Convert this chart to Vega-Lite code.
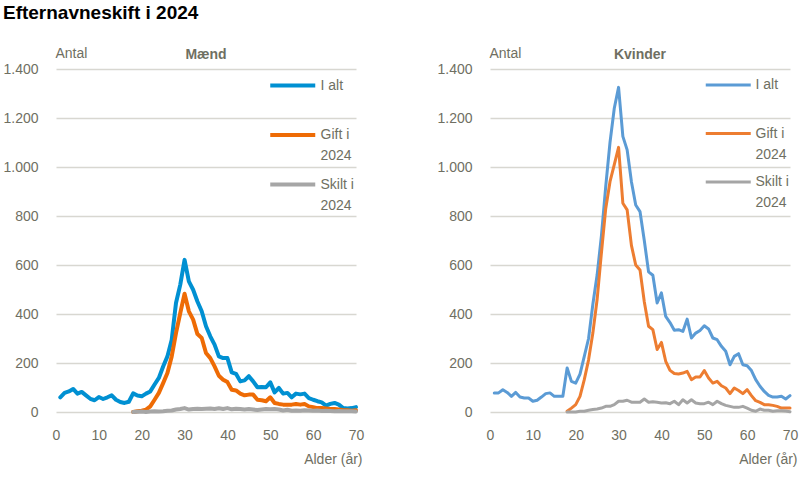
{
"$schema": "https://vega.github.io/schema/vega-lite/v6.json",
"padding": {"left": 2, "top": 4, "right": 3, "bottom": 5},
"title": {"text": "Efternavneskift i 2024", "anchor": "start", "font": "Liberation Sans", "fontSize": 19, "fontWeight": "bold", "color": "#000000", "offset": 23},
"data": {"values": [
{"koen":"Mænd","serie":"I alt","alder":1,"antal":60},{"koen":"Mænd","serie":"I alt","alder":2,"antal":78},{"koen":"Mænd","serie":"I alt","alder":3,"antal":84},{"koen":"Mænd","serie":"I alt","alder":4,"antal":94},{"koen":"Mænd","serie":"I alt","alder":5,"antal":75},{"koen":"Mænd","serie":"I alt","alder":6,"antal":82},{"koen":"Mænd","serie":"I alt","alder":7,"antal":68},{"koen":"Mænd","serie":"I alt","alder":8,"antal":54},{"koen":"Mænd","serie":"I alt","alder":9,"antal":48},{"koen":"Mænd","serie":"I alt","alder":10,"antal":61},
{"koen":"Mænd","serie":"I alt","alder":11,"antal":53},{"koen":"Mænd","serie":"I alt","alder":12,"antal":60},{"koen":"Mænd","serie":"I alt","alder":13,"antal":68},{"koen":"Mænd","serie":"I alt","alder":14,"antal":50},{"koen":"Mænd","serie":"I alt","alder":15,"antal":41},{"koen":"Mænd","serie":"I alt","alder":16,"antal":37},{"koen":"Mænd","serie":"I alt","alder":17,"antal":42},{"koen":"Mænd","serie":"I alt","alder":18,"antal":76},{"koen":"Mænd","serie":"I alt","alder":19,"antal":67},{"koen":"Mænd","serie":"I alt","alder":20,"antal":64},
{"koen":"Mænd","serie":"I alt","alder":21,"antal":75},{"koen":"Mænd","serie":"I alt","alder":22,"antal":84},{"koen":"Mænd","serie":"I alt","alder":23,"antal":112},{"koen":"Mænd","serie":"I alt","alder":24,"antal":139},{"koen":"Mænd","serie":"I alt","alder":25,"antal":186},{"koen":"Mænd","serie":"I alt","alder":26,"antal":227},{"koen":"Mænd","serie":"I alt","alder":27,"antal":295},{"koen":"Mænd","serie":"I alt","alder":28,"antal":445},{"koen":"Mænd","serie":"I alt","alder":29,"antal":520},{"koen":"Mænd","serie":"I alt","alder":30,"antal":621},
{"koen":"Mænd","serie":"I alt","alder":31,"antal":533},{"koen":"Mænd","serie":"I alt","alder":32,"antal":499},{"koen":"Mænd","serie":"I alt","alder":33,"antal":451},{"koen":"Mænd","serie":"I alt","alder":34,"antal":411},{"koen":"Mænd","serie":"I alt","alder":35,"antal":350},{"koen":"Mænd","serie":"I alt","alder":36,"antal":309},{"koen":"Mænd","serie":"I alt","alder":37,"antal":275},{"koen":"Mænd","serie":"I alt","alder":38,"antal":227},{"koen":"Mænd","serie":"I alt","alder":39,"antal":220},{"koen":"Mænd","serie":"I alt","alder":40,"antal":220},
{"koen":"Mænd","serie":"I alt","alder":41,"antal":162},{"koen":"Mænd","serie":"I alt","alder":42,"antal":156},{"koen":"Mænd","serie":"I alt","alder":43,"antal":125},{"koen":"Mænd","serie":"I alt","alder":44,"antal":129},{"koen":"Mænd","serie":"I alt","alder":45,"antal":146},{"koen":"Mænd","serie":"I alt","alder":46,"antal":125},{"koen":"Mænd","serie":"I alt","alder":47,"antal":101},{"koen":"Mænd","serie":"I alt","alder":48,"antal":102},{"koen":"Mænd","serie":"I alt","alder":49,"antal":101},{"koen":"Mænd","serie":"I alt","alder":50,"antal":121},
{"koen":"Mænd","serie":"I alt","alder":51,"antal":80},{"koen":"Mænd","serie":"I alt","alder":52,"antal":98},{"koen":"Mænd","serie":"I alt","alder":53,"antal":75},{"koen":"Mænd","serie":"I alt","alder":54,"antal":78},{"koen":"Mænd","serie":"I alt","alder":55,"antal":60},{"koen":"Mænd","serie":"I alt","alder":56,"antal":75},{"koen":"Mænd","serie":"I alt","alder":57,"antal":72},{"koen":"Mænd","serie":"I alt","alder":58,"antal":75},{"koen":"Mænd","serie":"I alt","alder":59,"antal":57},{"koen":"Mænd","serie":"I alt","alder":60,"antal":50},
{"koen":"Mænd","serie":"I alt","alder":61,"antal":44},{"koen":"Mænd","serie":"I alt","alder":62,"antal":39},{"koen":"Mænd","serie":"I alt","alder":63,"antal":26},{"koen":"Mænd","serie":"I alt","alder":64,"antal":33},{"koen":"Mænd","serie":"I alt","alder":65,"antal":37},{"koen":"Mænd","serie":"I alt","alder":66,"antal":30},{"koen":"Mænd","serie":"I alt","alder":67,"antal":16},{"koen":"Mænd","serie":"I alt","alder":68,"antal":14},{"koen":"Mænd","serie":"I alt","alder":69,"antal":16},{"koen":"Mænd","serie":"I alt","alder":70,"antal":20},
{"koen":"Mænd","serie":"Gift i 2024","alder":18,"antal":0},{"koen":"Mænd","serie":"Gift i 2024","alder":19,"antal":3},{"koen":"Mænd","serie":"Gift i 2024","alder":20,"antal":5},{"koen":"Mænd","serie":"Gift i 2024","alder":21,"antal":10},{"koen":"Mænd","serie":"Gift i 2024","alder":22,"antal":23},{"koen":"Mænd","serie":"Gift i 2024","alder":23,"antal":50},{"koen":"Mænd","serie":"Gift i 2024","alder":24,"antal":78},{"koen":"Mænd","serie":"Gift i 2024","alder":25,"antal":118},{"koen":"Mænd","serie":"Gift i 2024","alder":26,"antal":159},{"koen":"Mænd","serie":"Gift i 2024","alder":27,"antal":227},
{"koen":"Mænd","serie":"Gift i 2024","alder":28,"antal":322},{"koen":"Mænd","serie":"Gift i 2024","alder":29,"antal":404},{"koen":"Mænd","serie":"Gift i 2024","alder":30,"antal":483},{"koen":"Mænd","serie":"Gift i 2024","alder":31,"antal":411},{"koen":"Mænd","serie":"Gift i 2024","alder":32,"antal":377},{"koen":"Mænd","serie":"Gift i 2024","alder":33,"antal":318},{"koen":"Mænd","serie":"Gift i 2024","alder":34,"antal":302},{"koen":"Mænd","serie":"Gift i 2024","alder":35,"antal":241},{"koen":"Mænd","serie":"Gift i 2024","alder":36,"antal":220},{"koen":"Mænd","serie":"Gift i 2024","alder":37,"antal":186},
{"koen":"Mænd","serie":"Gift i 2024","alder":38,"antal":148},{"koen":"Mænd","serie":"Gift i 2024","alder":39,"antal":132},{"koen":"Mænd","serie":"Gift i 2024","alder":40,"antal":122},{"koen":"Mænd","serie":"Gift i 2024","alder":41,"antal":91},{"koen":"Mænd","serie":"Gift i 2024","alder":42,"antal":88},{"koen":"Mænd","serie":"Gift i 2024","alder":43,"antal":75},{"koen":"Mænd","serie":"Gift i 2024","alder":44,"antal":68},{"koen":"Mænd","serie":"Gift i 2024","alder":45,"antal":71},{"koen":"Mænd","serie":"Gift i 2024","alder":46,"antal":71},{"koen":"Mænd","serie":"Gift i 2024","alder":47,"antal":50},
{"koen":"Mænd","serie":"Gift i 2024","alder":48,"antal":48},{"koen":"Mænd","serie":"Gift i 2024","alder":49,"antal":44},{"koen":"Mænd","serie":"Gift i 2024","alder":50,"antal":60},{"koen":"Mænd","serie":"Gift i 2024","alder":51,"antal":37},{"koen":"Mænd","serie":"Gift i 2024","alder":52,"antal":33},{"koen":"Mænd","serie":"Gift i 2024","alder":53,"antal":30},{"koen":"Mænd","serie":"Gift i 2024","alder":54,"antal":30},{"koen":"Mænd","serie":"Gift i 2024","alder":55,"antal":30},{"koen":"Mænd","serie":"Gift i 2024","alder":56,"antal":33},{"koen":"Mænd","serie":"Gift i 2024","alder":57,"antal":30},
{"koen":"Mænd","serie":"Gift i 2024","alder":58,"antal":33},{"koen":"Mænd","serie":"Gift i 2024","alder":59,"antal":23},{"koen":"Mænd","serie":"Gift i 2024","alder":60,"antal":20},{"koen":"Mænd","serie":"Gift i 2024","alder":61,"antal":16},{"koen":"Mænd","serie":"Gift i 2024","alder":62,"antal":16},{"koen":"Mænd","serie":"Gift i 2024","alder":63,"antal":14},{"koen":"Mænd","serie":"Gift i 2024","alder":64,"antal":12},{"koen":"Mænd","serie":"Gift i 2024","alder":65,"antal":12},{"koen":"Mænd","serie":"Gift i 2024","alder":66,"antal":10},{"koen":"Mænd","serie":"Gift i 2024","alder":67,"antal":7},
{"koen":"Mænd","serie":"Gift i 2024","alder":68,"antal":7},{"koen":"Mænd","serie":"Gift i 2024","alder":69,"antal":5},{"koen":"Mænd","serie":"Gift i 2024","alder":70,"antal":7},
{"koen":"Mænd","serie":"Skilt i 2024","alder":18,"antal":0},{"koen":"Mænd","serie":"Skilt i 2024","alder":19,"antal":1},{"koen":"Mænd","serie":"Skilt i 2024","alder":20,"antal":2},{"koen":"Mænd","serie":"Skilt i 2024","alder":21,"antal":0},{"koen":"Mænd","serie":"Skilt i 2024","alder":22,"antal":2},{"koen":"Mænd","serie":"Skilt i 2024","alder":23,"antal":3},{"koen":"Mænd","serie":"Skilt i 2024","alder":24,"antal":2},{"koen":"Mænd","serie":"Skilt i 2024","alder":25,"antal":3},{"koen":"Mænd","serie":"Skilt i 2024","alder":26,"antal":5},{"koen":"Mænd","serie":"Skilt i 2024","alder":27,"antal":6},
{"koen":"Mænd","serie":"Skilt i 2024","alder":28,"antal":10},{"koen":"Mænd","serie":"Skilt i 2024","alder":29,"antal":12},{"koen":"Mænd","serie":"Skilt i 2024","alder":30,"antal":16},{"koen":"Mænd","serie":"Skilt i 2024","alder":31,"antal":10},{"koen":"Mænd","serie":"Skilt i 2024","alder":32,"antal":12},{"koen":"Mænd","serie":"Skilt i 2024","alder":33,"antal":13},{"koen":"Mænd","serie":"Skilt i 2024","alder":34,"antal":12},{"koen":"Mænd","serie":"Skilt i 2024","alder":35,"antal":13},{"koen":"Mænd","serie":"Skilt i 2024","alder":36,"antal":14},{"koen":"Mænd","serie":"Skilt i 2024","alder":37,"antal":12},
{"koen":"Mænd","serie":"Skilt i 2024","alder":38,"antal":15},{"koen":"Mænd","serie":"Skilt i 2024","alder":39,"antal":12},{"koen":"Mænd","serie":"Skilt i 2024","alder":40,"antal":16},{"koen":"Mænd","serie":"Skilt i 2024","alder":41,"antal":11},{"koen":"Mænd","serie":"Skilt i 2024","alder":42,"antal":13},{"koen":"Mænd","serie":"Skilt i 2024","alder":43,"antal":12},{"koen":"Mænd","serie":"Skilt i 2024","alder":44,"antal":10},{"koen":"Mænd","serie":"Skilt i 2024","alder":45,"antal":12},{"koen":"Mænd","serie":"Skilt i 2024","alder":46,"antal":10},{"koen":"Mænd","serie":"Skilt i 2024","alder":47,"antal":8},
{"koen":"Mænd","serie":"Skilt i 2024","alder":48,"antal":10},{"koen":"Mænd","serie":"Skilt i 2024","alder":49,"antal":12},{"koen":"Mænd","serie":"Skilt i 2024","alder":50,"antal":11},{"koen":"Mænd","serie":"Skilt i 2024","alder":51,"antal":12},{"koen":"Mænd","serie":"Skilt i 2024","alder":52,"antal":10},{"koen":"Mænd","serie":"Skilt i 2024","alder":53,"antal":6},{"koen":"Mænd","serie":"Skilt i 2024","alder":54,"antal":9},{"koen":"Mænd","serie":"Skilt i 2024","alder":55,"antal":5},{"koen":"Mænd","serie":"Skilt i 2024","alder":56,"antal":6},{"koen":"Mænd","serie":"Skilt i 2024","alder":57,"antal":5},
{"koen":"Mænd","serie":"Skilt i 2024","alder":58,"antal":7},{"koen":"Mænd","serie":"Skilt i 2024","alder":59,"antal":6},{"koen":"Mænd","serie":"Skilt i 2024","alder":60,"antal":5},{"koen":"Mænd","serie":"Skilt i 2024","alder":61,"antal":6},{"koen":"Mænd","serie":"Skilt i 2024","alder":62,"antal":4},{"koen":"Mænd","serie":"Skilt i 2024","alder":63,"antal":5},{"koen":"Mænd","serie":"Skilt i 2024","alder":64,"antal":4},{"koen":"Mænd","serie":"Skilt i 2024","alder":65,"antal":3},{"koen":"Mænd","serie":"Skilt i 2024","alder":66,"antal":4},{"koen":"Mænd","serie":"Skilt i 2024","alder":67,"antal":3},
{"koen":"Mænd","serie":"Skilt i 2024","alder":68,"antal":3},{"koen":"Mænd","serie":"Skilt i 2024","alder":69,"antal":3},{"koen":"Mænd","serie":"Skilt i 2024","alder":70,"antal":2},
{"koen":"Kvinder","serie":"I alt","alder":1,"antal":78},{"koen":"Kvinder","serie":"I alt","alder":2,"antal":78},{"koen":"Kvinder","serie":"I alt","alder":3,"antal":91},{"koen":"Kvinder","serie":"I alt","alder":4,"antal":80},{"koen":"Kvinder","serie":"I alt","alder":5,"antal":64},{"koen":"Kvinder","serie":"I alt","alder":6,"antal":80},{"koen":"Kvinder","serie":"I alt","alder":7,"antal":61},{"koen":"Kvinder","serie":"I alt","alder":8,"antal":57},{"koen":"Kvinder","serie":"I alt","alder":9,"antal":57},{"koen":"Kvinder","serie":"I alt","alder":10,"antal":44},
{"koen":"Kvinder","serie":"I alt","alder":11,"antal":48},{"koen":"Kvinder","serie":"I alt","alder":12,"antal":61},{"koen":"Kvinder","serie":"I alt","alder":13,"antal":75},{"koen":"Kvinder","serie":"I alt","alder":14,"antal":78},{"koen":"Kvinder","serie":"I alt","alder":15,"antal":64},{"koen":"Kvinder","serie":"I alt","alder":16,"antal":64},{"koen":"Kvinder","serie":"I alt","alder":17,"antal":64},{"koen":"Kvinder","serie":"I alt","alder":18,"antal":180},{"koen":"Kvinder","serie":"I alt","alder":19,"antal":125},{"koen":"Kvinder","serie":"I alt","alder":20,"antal":118},
{"koen":"Kvinder","serie":"I alt","alder":21,"antal":155},{"koen":"Kvinder","serie":"I alt","alder":22,"antal":227},{"koen":"Kvinder","serie":"I alt","alder":23,"antal":300},{"koen":"Kvinder","serie":"I alt","alder":24,"antal":440},{"koen":"Kvinder","serie":"I alt","alder":25,"antal":560},{"koen":"Kvinder","serie":"I alt","alder":26,"antal":720},{"koen":"Kvinder","serie":"I alt","alder":27,"antal":920},{"koen":"Kvinder","serie":"I alt","alder":28,"antal":1100},{"koen":"Kvinder","serie":"I alt","alder":29,"antal":1240},{"koen":"Kvinder","serie":"I alt","alder":30,"antal":1325},
{"koen":"Kvinder","serie":"I alt","alder":31,"antal":1125},{"koen":"Kvinder","serie":"I alt","alder":32,"antal":1070},{"koen":"Kvinder","serie":"I alt","alder":33,"antal":940},{"koen":"Kvinder","serie":"I alt","alder":34,"antal":845},{"koen":"Kvinder","serie":"I alt","alder":35,"antal":818},{"koen":"Kvinder","serie":"I alt","alder":36,"antal":700},{"koen":"Kvinder","serie":"I alt","alder":37,"antal":572},{"koen":"Kvinder","serie":"I alt","alder":38,"antal":558},{"koen":"Kvinder","serie":"I alt","alder":39,"antal":445},{"koen":"Kvinder","serie":"I alt","alder":40,"antal":486},
{"koen":"Kvinder","serie":"I alt","alder":41,"antal":390},{"koen":"Kvinder","serie":"I alt","alder":42,"antal":365},{"koen":"Kvinder","serie":"I alt","alder":43,"antal":334},{"koen":"Kvinder","serie":"I alt","alder":44,"antal":336},{"koen":"Kvinder","serie":"I alt","alder":45,"antal":329},{"koen":"Kvinder","serie":"I alt","alder":46,"antal":379},{"koen":"Kvinder","serie":"I alt","alder":47,"antal":302},{"koen":"Kvinder","serie":"I alt","alder":48,"antal":322},{"koen":"Kvinder","serie":"I alt","alder":49,"antal":333},{"koen":"Kvinder","serie":"I alt","alder":50,"antal":352},
{"koen":"Kvinder","serie":"I alt","alder":51,"antal":339},{"koen":"Kvinder","serie":"I alt","alder":52,"antal":302},{"koen":"Kvinder","serie":"I alt","alder":53,"antal":295},{"koen":"Kvinder","serie":"I alt","alder":54,"antal":268},{"koen":"Kvinder","serie":"I alt","alder":55,"antal":248},{"koen":"Kvinder","serie":"I alt","alder":56,"antal":193},{"koen":"Kvinder","serie":"I alt","alder":57,"antal":227},{"koen":"Kvinder","serie":"I alt","alder":58,"antal":238},{"koen":"Kvinder","serie":"I alt","alder":59,"antal":193},{"koen":"Kvinder","serie":"I alt","alder":60,"antal":189},
{"koen":"Kvinder","serie":"I alt","alder":61,"antal":169},{"koen":"Kvinder","serie":"I alt","alder":62,"antal":132},{"koen":"Kvinder","serie":"I alt","alder":63,"antal":105},{"koen":"Kvinder","serie":"I alt","alder":64,"antal":84},{"koen":"Kvinder","serie":"I alt","alder":65,"antal":68},{"koen":"Kvinder","serie":"I alt","alder":66,"antal":61},{"koen":"Kvinder","serie":"I alt","alder":67,"antal":61},{"koen":"Kvinder","serie":"I alt","alder":68,"antal":64},{"koen":"Kvinder","serie":"I alt","alder":69,"antal":53},{"koen":"Kvinder","serie":"I alt","alder":70,"antal":67},
{"koen":"Kvinder","serie":"Gift i 2024","alder":18,"antal":3},{"koen":"Kvinder","serie":"Gift i 2024","alder":19,"antal":16},{"koen":"Kvinder","serie":"Gift i 2024","alder":20,"antal":30},{"koen":"Kvinder","serie":"Gift i 2024","alder":21,"antal":64},{"koen":"Kvinder","serie":"Gift i 2024","alder":22,"antal":132},{"koen":"Kvinder","serie":"Gift i 2024","alder":23,"antal":213},{"koen":"Kvinder","serie":"Gift i 2024","alder":24,"antal":322},{"koen":"Kvinder","serie":"Gift i 2024","alder":25,"antal":460},{"koen":"Kvinder","serie":"Gift i 2024","alder":26,"antal":650},{"koen":"Kvinder","serie":"Gift i 2024","alder":27,"antal":830},
{"koen":"Kvinder","serie":"Gift i 2024","alder":28,"antal":940},{"koen":"Kvinder","serie":"Gift i 2024","alder":29,"antal":1010},{"koen":"Kvinder","serie":"Gift i 2024","alder":30,"antal":1080},{"koen":"Kvinder","serie":"Gift i 2024","alder":31,"antal":852},{"koen":"Kvinder","serie":"Gift i 2024","alder":32,"antal":825},{"koen":"Kvinder","serie":"Gift i 2024","alder":33,"antal":680},{"koen":"Kvinder","serie":"Gift i 2024","alder":34,"antal":600},{"koen":"Kvinder","serie":"Gift i 2024","alder":35,"antal":580},{"koen":"Kvinder","serie":"Gift i 2024","alder":36,"antal":450},{"koen":"Kvinder","serie":"Gift i 2024","alder":37,"antal":350},
{"koen":"Kvinder","serie":"Gift i 2024","alder":38,"antal":336},{"koen":"Kvinder","serie":"Gift i 2024","alder":39,"antal":255},{"koen":"Kvinder","serie":"Gift i 2024","alder":40,"antal":284},{"koen":"Kvinder","serie":"Gift i 2024","alder":41,"antal":207},{"koen":"Kvinder","serie":"Gift i 2024","alder":42,"antal":170},{"koen":"Kvinder","serie":"Gift i 2024","alder":43,"antal":157},{"koen":"Kvinder","serie":"Gift i 2024","alder":44,"antal":155},{"koen":"Kvinder","serie":"Gift i 2024","alder":45,"antal":159},{"koen":"Kvinder","serie":"Gift i 2024","alder":46,"antal":166},{"koen":"Kvinder","serie":"Gift i 2024","alder":47,"antal":132},
{"koen":"Kvinder","serie":"Gift i 2024","alder":48,"antal":143},{"koen":"Kvinder","serie":"Gift i 2024","alder":49,"antal":143},{"koen":"Kvinder","serie":"Gift i 2024","alder":50,"antal":169},{"koen":"Kvinder","serie":"Gift i 2024","alder":51,"antal":139},{"koen":"Kvinder","serie":"Gift i 2024","alder":52,"antal":118},{"koen":"Kvinder","serie":"Gift i 2024","alder":53,"antal":125},{"koen":"Kvinder","serie":"Gift i 2024","alder":54,"antal":107},{"koen":"Kvinder","serie":"Gift i 2024","alder":55,"antal":98},{"koen":"Kvinder","serie":"Gift i 2024","alder":56,"antal":75},{"koen":"Kvinder","serie":"Gift i 2024","alder":57,"antal":98},
{"koen":"Kvinder","serie":"Gift i 2024","alder":58,"antal":88},{"koen":"Kvinder","serie":"Gift i 2024","alder":59,"antal":75},{"koen":"Kvinder","serie":"Gift i 2024","alder":60,"antal":91},{"koen":"Kvinder","serie":"Gift i 2024","alder":61,"antal":67},{"koen":"Kvinder","serie":"Gift i 2024","alder":62,"antal":46},{"koen":"Kvinder","serie":"Gift i 2024","alder":63,"antal":39},{"koen":"Kvinder","serie":"Gift i 2024","alder":64,"antal":30},{"koen":"Kvinder","serie":"Gift i 2024","alder":65,"antal":30},{"koen":"Kvinder","serie":"Gift i 2024","alder":66,"antal":27},{"koen":"Kvinder","serie":"Gift i 2024","alder":67,"antal":23},
{"koen":"Kvinder","serie":"Gift i 2024","alder":68,"antal":16},{"koen":"Kvinder","serie":"Gift i 2024","alder":69,"antal":16},{"koen":"Kvinder","serie":"Gift i 2024","alder":70,"antal":16},
{"koen":"Kvinder","serie":"Skilt i 2024","alder":18,"antal":0},{"koen":"Kvinder","serie":"Skilt i 2024","alder":19,"antal":0},{"koen":"Kvinder","serie":"Skilt i 2024","alder":20,"antal":0},{"koen":"Kvinder","serie":"Skilt i 2024","alder":21,"antal":3},{"koen":"Kvinder","serie":"Skilt i 2024","alder":22,"antal":3},{"koen":"Kvinder","serie":"Skilt i 2024","alder":23,"antal":7},{"koen":"Kvinder","serie":"Skilt i 2024","alder":24,"antal":10},{"koen":"Kvinder","serie":"Skilt i 2024","alder":25,"antal":12},{"koen":"Kvinder","serie":"Skilt i 2024","alder":26,"antal":16},{"koen":"Kvinder","serie":"Skilt i 2024","alder":27,"antal":23},
{"koen":"Kvinder","serie":"Skilt i 2024","alder":28,"antal":23},{"koen":"Kvinder","serie":"Skilt i 2024","alder":29,"antal":30},{"koen":"Kvinder","serie":"Skilt i 2024","alder":30,"antal":44},{"koen":"Kvinder","serie":"Skilt i 2024","alder":31,"antal":44},{"koen":"Kvinder","serie":"Skilt i 2024","alder":32,"antal":48},{"koen":"Kvinder","serie":"Skilt i 2024","alder":33,"antal":40},{"koen":"Kvinder","serie":"Skilt i 2024","alder":34,"antal":40},{"koen":"Kvinder","serie":"Skilt i 2024","alder":35,"antal":40},{"koen":"Kvinder","serie":"Skilt i 2024","alder":36,"antal":53},{"koen":"Kvinder","serie":"Skilt i 2024","alder":37,"antal":40},
{"koen":"Kvinder","serie":"Skilt i 2024","alder":38,"antal":42},{"koen":"Kvinder","serie":"Skilt i 2024","alder":39,"antal":40},{"koen":"Kvinder","serie":"Skilt i 2024","alder":40,"antal":37},{"koen":"Kvinder","serie":"Skilt i 2024","alder":41,"antal":38},{"koen":"Kvinder","serie":"Skilt i 2024","alder":42,"antal":34},{"koen":"Kvinder","serie":"Skilt i 2024","alder":43,"antal":44},{"koen":"Kvinder","serie":"Skilt i 2024","alder":44,"antal":30},{"koen":"Kvinder","serie":"Skilt i 2024","alder":45,"antal":50},{"koen":"Kvinder","serie":"Skilt i 2024","alder":46,"antal":37},{"koen":"Kvinder","serie":"Skilt i 2024","alder":47,"antal":50},
{"koen":"Kvinder","serie":"Skilt i 2024","alder":48,"antal":37},{"koen":"Kvinder","serie":"Skilt i 2024","alder":49,"antal":34},{"koen":"Kvinder","serie":"Skilt i 2024","alder":50,"antal":34},{"koen":"Kvinder","serie":"Skilt i 2024","alder":51,"antal":40},{"koen":"Kvinder","serie":"Skilt i 2024","alder":52,"antal":30},{"koen":"Kvinder","serie":"Skilt i 2024","alder":53,"antal":44},{"koen":"Kvinder","serie":"Skilt i 2024","alder":54,"antal":34},{"koen":"Kvinder","serie":"Skilt i 2024","alder":55,"antal":27},{"koen":"Kvinder","serie":"Skilt i 2024","alder":56,"antal":23},{"koen":"Kvinder","serie":"Skilt i 2024","alder":57,"antal":19},
{"koen":"Kvinder","serie":"Skilt i 2024","alder":58,"antal":19},{"koen":"Kvinder","serie":"Skilt i 2024","alder":59,"antal":23},{"koen":"Kvinder","serie":"Skilt i 2024","alder":60,"antal":16},{"koen":"Kvinder","serie":"Skilt i 2024","alder":61,"antal":7},{"koen":"Kvinder","serie":"Skilt i 2024","alder":62,"antal":3},{"koen":"Kvinder","serie":"Skilt i 2024","alder":63,"antal":12},{"koen":"Kvinder","serie":"Skilt i 2024","alder":64,"antal":7},{"koen":"Kvinder","serie":"Skilt i 2024","alder":65,"antal":7},{"koen":"Kvinder","serie":"Skilt i 2024","alder":66,"antal":3},{"koen":"Kvinder","serie":"Skilt i 2024","alder":67,"antal":5},
{"koen":"Kvinder","serie":"Skilt i 2024","alder":68,"antal":5},{"koen":"Kvinder","serie":"Skilt i 2024","alder":69,"antal":4},{"koen":"Kvinder","serie":"Skilt i 2024","alder":70,"antal":1}
]},
"spacing": 134,
"bounds": "flush",
"resolve": {"scale": {"color": "independent"}, "legend": {"color": "independent"}},
"hconcat": [
{
"width": 300, "height": 343,
"title": {"text": "Mænd", "fontSize": 14, "fontWeight": "bold", "color": "#6f6f62", "font": "Liberation Sans", "anchor": "middle", "frame": "group", "baseline": "alphabetic", "offset": -27},
"transform": [{"filter": "datum.koen === 'Mænd'"}],
"mark": {"type": "line", "strokeWidth": 4, "strokeJoin": "round", "strokeCap": "round"},
"encoding": {
"x": {"field": "alder", "type": "quantitative", "scale": {"domain": [0, 70], "nice": false, "zero": false},
 "axis": {"values": [0,10,20,30,40,50,60,70], "format": "d", "labelFlush": false, "title": "Alder (år)", "titleAlign": "right", "titleAnchor": "end", "titleX": 306, "titleY": 51, "titleBaseline": "alphabetic"}},
"y": {"field": "antal", "type": "quantitative", "scale": {"domain": [0, 1400], "nice": false},
 "axis": {"values": [0,200,400,600,800,1000,1200,1400], "labelExpr": "replace(format(datum.value, ','), ',', '.')", "title": "Antal", "titleAngle": 0, "titleAlign": "left", "titleAnchor": "end", "titleBaseline": "alphabetic", "titleX": -1, "titleY": -12}},
"color": {"field": "serie", "type": "nominal",
 "scale": {"domain": ["I alt", "Gift i 2024", "Skilt i 2024"], "range": ["#0090D2", "#EE6B05", "#A6A6A6"]},
 "legend": {"orient": "none", "legendX": 212, "legendY": 3, "title": null, "symbolType": "M-1,0H3", "symbolSize": 506.25, "symbolStrokeWidth": 4, "labelFontSize": 14, "labelColor": "#6f6f62", "labelFont": "Liberation Sans", "labelOffset": 25.5, "rowPadding": 7.5, "padding": 0,
  "labelExpr": "datum.label == 'I alt' ? ['I alt', ''] : datum.label == 'Gift i 2024' ? ['Gift i', '2024'] : ['Skilt i', '2024']"}}
}
},
{
"width": 300, "height": 343,
"title": {"text": "Kvinder", "fontSize": 14, "fontWeight": "bold", "color": "#6f6f62", "font": "Liberation Sans", "anchor": "middle", "frame": "group", "baseline": "alphabetic", "offset": -27},
"transform": [{"filter": "datum.koen === 'Kvinder'"}],
"mark": {"type": "line", "strokeWidth": 3, "strokeJoin": "round", "strokeCap": "round"},
"encoding": {
"x": {"field": "alder", "type": "quantitative", "scale": {"domain": [0, 70], "nice": false, "zero": false},
 "axis": {"values": [0,10,20,30,40,50,60,70], "format": "d", "labelFlush": false, "title": "Alder (år)", "titleAlign": "right", "titleAnchor": "end", "titleX": 307, "titleY": 51, "titleBaseline": "alphabetic"}},
"y": {"field": "antal", "type": "quantitative", "scale": {"domain": [0, 1400], "nice": false},
 "axis": {"values": [0,200,400,600,800,1000,1200,1400], "labelExpr": "replace(format(datum.value, ','), ',', '.')", "title": "Antal", "titleAngle": 0, "titleAlign": "left", "titleAnchor": "end", "titleBaseline": "alphabetic", "titleX": -1, "titleY": -12}},
"color": {"field": "serie", "type": "nominal",
 "scale": {"domain": ["I alt", "Gift i 2024", "Skilt i 2024"], "range": ["#5B9BD5", "#ED7D31", "#A5A5A5"]},
 "legend": {"orient": "none", "legendX": 214, "legendY": 3, "title": null, "symbolType": "M-1,0H3", "symbolSize": 506.25, "symbolStrokeWidth": 3, "labelFontSize": 14, "labelColor": "#6f6f62", "labelFont": "Liberation Sans", "labelOffset": 25.5, "rowPadding": 7.5, "padding": 0,
  "labelExpr": "datum.label == 'I alt' ? ['I alt', ''] : datum.label == 'Gift i 2024' ? ['Gift i', '2024'] : ['Skilt i', '2024']"}}
}
}
],
"config": {
"font": "Liberation Sans",
"view": {"stroke": null},
"axis": {"labelFont": "Liberation Sans", "labelFontSize": 14, "labelColor": "#6f6f62", "titleFont": "Liberation Sans", "titleFontSize": 14, "titleFontWeight": "normal", "titleColor": "#6f6f62", "ticks": false, "domain": false},
"axisX": {"grid": false, "labelPadding": 16},
"axisY": {"grid": true, "gridColor": "#d8d7d1", "gridWidth": 1.5, "labelPadding": 18},
"style": {"guide-label": {"lineHeight": 21}}
}
}
